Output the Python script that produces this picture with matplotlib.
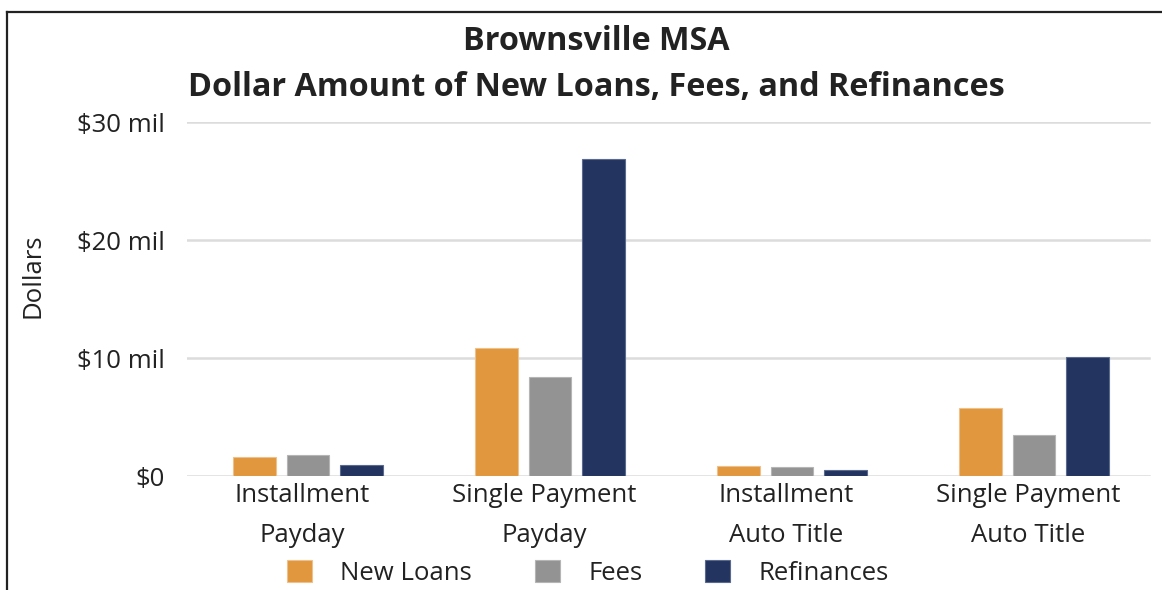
import matplotlib
matplotlib.use("Agg")
import matplotlib.pyplot as plt
import matplotlib.transforms as mtransforms
import numpy as np
from matplotlib.lines import Line2D

categories = ["Installment\nPayday", "Single Payment\nPayday", "Installment\nAuto Title", "Single Payment\nAuto Title"]
series_names = ["New Loans", "Fees", "Refinances"]
new_loans = [1.6, 10.85, 0.85, 5.76]
fees = [1.78, 8.4, 0.76, 3.47]
refinances = [0.93, 26.9, 0.5, 10.08]
yticks = [0, 10, 20, 30]
ytick_labels = ["$0", "$10 mil", "$20 mil", "$30 mil"]

colors = ["#E0973D", "#939393", "#22345F"]
edges = ["#F0C08A", "#B5B5B5", "#5A6A8F"]

plt.rcParams['font.family'] = ['Open Sans', 'DejaVu Sans']

W, H = 1162, 590
fig = plt.figure(figsize=(W/100, H/100), dpi=100)
ax_left, ax_right = 187, 1155
ax = fig.add_axes([ax_left/W, 1 - 476/H, (ax_right-ax_left)/W, (476-122)/H])

x = np.arange(len(categories))
width = 0.176
step = 0.222
for i, (vals, name) in enumerate(zip([new_loans, fees, refinances], series_names)):
    ax.bar(x + (i - 1) * step, vals, width, color=colors[i], edgecolor=edges[i], linewidth=0.8, label=name, zorder=3)

ax.set_xlim(-0.5, len(categories) - 0.5)
ax.set_ylim(0, 30)
ax.set_yticks(yticks)
ax.set_yticklabels(ytick_labels, fontsize=18.5, color="#222222")
ax.set_xticks(x)
ax.set_xticklabels(categories, fontsize=18.5, color="#222222", linespacing=1.8)
ax.tick_params(axis='y', length=0, pad=16)
ax.tick_params(axis='x', length=0, pad=5)
shift = mtransforms.ScaledTranslation(-6/100, 0, fig.dpi_scale_trans)
for lbl in ax.get_xticklabels():
    lbl.set_transform(lbl.get_transform() + shift)
for s in ax.spines.values():
    s.set_visible(False)
ax.grid(axis='y', color="#DCDCDC", linewidth=1.8, zorder=0)
for gl in ax.get_ygridlines():
    gl.set_xdata([0, (1149 - ax_left) / (ax_right - ax_left)])
    gl.set_transform(ax.get_yaxis_transform())
ax.set_axisbelow(True)

fig.text(33/W, 1 - 276/H, "Dollars", rotation=90, fontsize=18.5, color="#222222", ha='center', va='center')
fig.text(596/W, 1 - 42/H, "Brownsville MSA", fontsize=23.3, fontweight='bold', color="#222222", ha='center', va='center')
fig.text(596/W, 1 - 88/H, "Dollar Amount of New Loans, Fees, and Refinances", fontsize=23.3, fontweight='bold', color="#222222", ha='center', va='center')

leg = fig.legend(loc='center', bbox_to_anchor=(588/W, 1 - 573/H), ncol=3, frameon=False,
                 fontsize=18.5, handlelength=0.97, handleheight=0.97, handletextpad=1.1, columnspacing=2.45,
                 labelcolor="#222222")

# outer frame: left and top lines only
fig.add_artist(Line2D([7/W, 7/W], [0, 1 - 12/H], transform=fig.transFigure, color="#222222", linewidth=1.6))
fig.add_artist(Line2D([7/W, 1], [1 - 12/H, 1 - 12/H], transform=fig.transFigure, color="#222222", linewidth=1.6))

fig.savefig("out.png", dpi=100)
